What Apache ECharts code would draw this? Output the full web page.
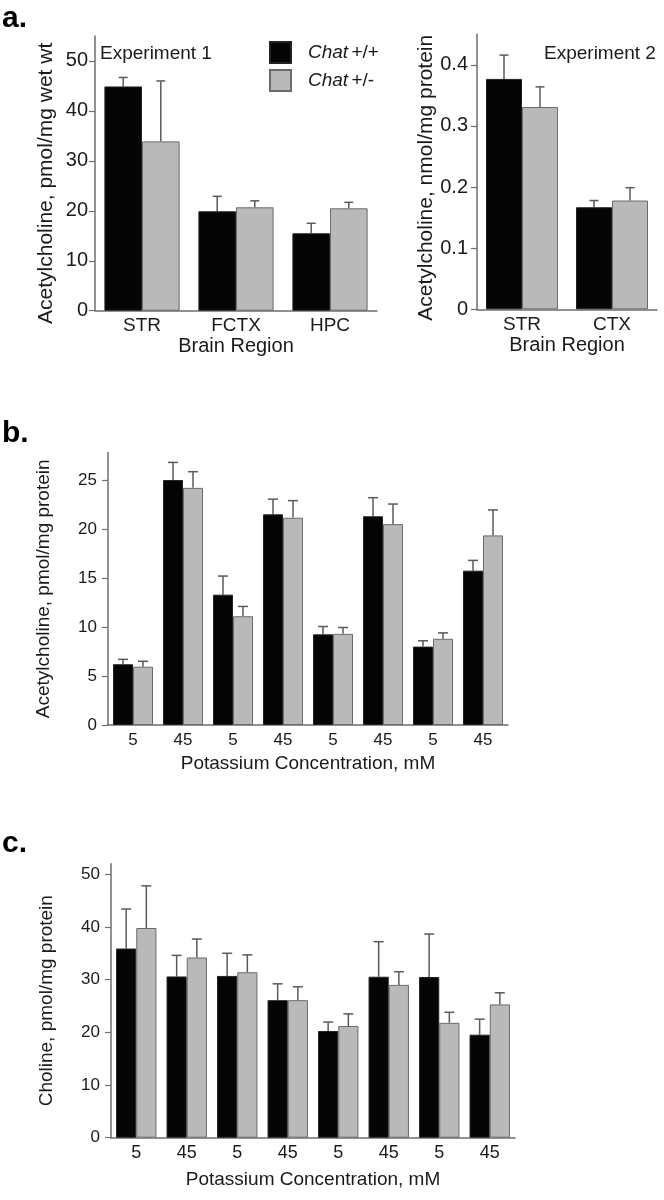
<!DOCTYPE html>
<html><head><meta charset="utf-8">
<script src="https://cdn.jsdelivr.net/npm/echarts@6/dist/echarts.min.js"></script>
<style>html,body{margin:0;padding:0;background:#fff}#c{width:664px;height:1200px}</style>
</head><body><div id="c"></div>
<script>
// ---------- data ----------
const seriesNames = ['Chat +/+', 'Chat +/-'];

const catsA1 = ['STR', 'FCTX', 'HPC'];
const a1Wt = [44.9, 19.9, 15.5];
const a1WtErr = [1.8, 3.0, 2.0];
const a1Het = [33.9, 20.7, 20.5];
const a1HetErr = [12.1, 1.3, 1.2];
const a1Ticks = [0, 10, 20, 30, 40, 50];

const catsA2 = ['STR', 'CTX'];
const a2Wt = [0.377, 0.167];
const a2WtErr = [0.039, 0.011];
const a2Het = [0.331, 0.178];
const a2HetErr = [0.033, 0.021];
const a2Ticks = [0, 0.1, 0.2, 0.3, 0.4];

const catsB = ['5', '45', '5', '45', '5', '45', '5', '45'];
const bWt = [6.2, 25.0, 13.3, 21.5, 9.25, 21.3, 8.0, 15.75];
const bWtErr = [0.5, 1.8, 1.9, 1.55, 0.8, 1.9, 0.6, 1.05];
const bHet = [5.95, 24.2, 11.1, 21.15, 9.3, 20.5, 8.8, 19.35];
const bHetErr = [0.55, 1.65, 1.0, 1.75, 0.65, 2.05, 0.6, 2.6];
const bTicks = [0, 5, 10, 15, 20, 25];

const catsC = ['5', '45', '5', '45', '5', '45', '5', '45'];
const cWt = [35.9, 30.6, 30.7, 26.1, 20.25, 30.55, 30.5, 19.55];
const cWtErr = [7.5, 4.0, 4.3, 3.1, 1.7, 6.65, 8.15, 2.95];
const cHet = [39.8, 34.2, 31.4, 26.1, 21.2, 29.0, 21.8, 25.3];
const cHetErr = [8.0, 3.5, 3.3, 2.55, 2.3, 2.5, 2.0, 2.2];
const cTicks = [0, 10, 20, 30, 40, 50];

// ---------- styling ----------
const FONT = 'Liberation Sans, Arial, Helvetica, sans-serif';
const AXIS_COLOR = '#6e6e6e';
const TEXT_COLOR = '#1a1a1a';
const GAP = 0.2;
const BLACK = '#050505';
const GREY = '#b9b9b9';

function errData(means, errs, side) {
  return means.map((m, i) => [i, m, errs[i], side]);
}
function errRender(cap) {
  return function (params, api) {
    const i = api.value(0), m = api.value(1), e = api.value(2), s = api.value(3);
    const band = api.size([1, 0])[0];
    const bw = band * (1 - GAP) / 2;
    const c = api.coord([i, m]);
    const t = api.coord([i, m + e]);
    const x = c[0] + (s === 0 ? -bw / 2 : bw / 2);
    const st = { stroke: '#5a5a5a', lineWidth: 1.5 };
    return {
      type: 'group', children: [
        { type: 'line', shape: { x1: x, y1: c[1], x2: x, y2: t[1] }, style: st },
        { type: 'line', shape: { x1: x - cap, y1: t[1], x2: x + cap, y2: t[1] }, style: st }
      ]
    };
  };
}

function yAxis(idx, max, ticks, cfg) {
  return {
    type: 'value', gridIndex: idx, min: 0, max: max,
    name: cfg.name, nameLocation: 'middle', nameGap: cfg.nameGap,
    nameTextStyle: { fontFamily: FONT, fontSize: cfg.nameSize, color: TEXT_COLOR, padding: cfg.namePad || 0 },
    axisLine: { show: true, lineStyle: { color: AXIS_COLOR, width: 1.5 } },
    axisTick: { show: true, length: 6, customValues: ticks, lineStyle: { color: AXIS_COLOR, width: 1.2 } },
    axisLabel: {
      customValues: ticks, margin: cfg.margin, fontFamily: FONT, fontSize: cfg.labelSize, color: TEXT_COLOR,
      formatter: cfg.fmt || (v => String(v))
    },
    splitLine: { show: false }
  };
}
function xAxis(idx, cats, cfg) {
  return {
    type: 'category', gridIndex: idx, data: cats,
    name: cfg.name, nameLocation: 'middle', nameGap: cfg.nameGap,
    nameTextStyle: { fontFamily: FONT, fontSize: cfg.nameSize, color: TEXT_COLOR },
    axisLine: { show: true, lineStyle: { color: AXIS_COLOR, width: 1.5 } },
    axisTick: { show: false },
    axisLabel: { margin: cfg.margin, fontFamily: FONT, fontSize: cfg.labelSize, color: TEXT_COLOR, interval: 0 },
    splitLine: { show: false }
  };
}
function bars(idx, name, data, color, border) {
  return {
    type: 'bar', name: name, xAxisIndex: idx, yAxisIndex: idx, data: data,
    barGap: '0%', barCategoryGap: (GAP * 100) + '%',
    itemStyle: { color: color, borderColor: border, borderWidth: 1 },
    z: 2, silent: true, animation: false
  };
}
function errs(idx, data, cap) {
  return {
    type: 'custom', xAxisIndex: idx, yAxisIndex: idx, data: data,
    renderItem: errRender(cap), z: 1, silent: true, animation: false
  };
}

const option = {
  animation: false,
  backgroundColor: '#ffffff',
  title: [
    { text: 'a.', left: 2, top: 4, padding: 0, textStyle: { fontFamily: FONT, fontSize: 30, fontWeight: 'bold', color: '#000' } },
    { text: 'b.', left: 2, top: 419, padding: 0, textStyle: { fontFamily: FONT, fontSize: 30, fontWeight: 'bold', color: '#000' } },
    { text: 'c.', left: 2, top: 829, padding: 0, textStyle: { fontFamily: FONT, fontSize: 30, fontWeight: 'bold', color: '#000' } },
    { text: 'Experiment 1', left: 100, top: 44, padding: 0, textStyle: { fontFamily: FONT, fontSize: 19, fontWeight: 'normal', color: TEXT_COLOR } },
    { text: 'Experiment 2', left: 544, top: 44, padding: 0, textStyle: { fontFamily: FONT, fontSize: 19, fontWeight: 'normal', color: TEXT_COLOR } }
  ],
  legend: {
    data: seriesNames, orient: 'vertical', left: 269, top: 41, padding: 0,
    itemWidth: 21, itemHeight: 21, itemGap: 5, icon: 'rect', selectedMode: false,
    formatter: n => '{i|Chat} {n|' + n.replace('Chat ', '') + '}',
    textStyle: {
      padding: [0, 0, 0, 12],
      rich: {
        i: { fontFamily: FONT, fontSize: 19, fontStyle: 'italic', color: TEXT_COLOR },
        n: { fontFamily: FONT, fontSize: 19, color: TEXT_COLOR }
      }
    }
  },
  grid: [
    { left: 95, right: 287, top: 36, bottom: 889.3 },
    { left: 477, right: 7, top: 34.3, bottom: 890.7 },
    { left: 108, right: 156, top: 452.6, bottom: 475 },
    { left: 111, right: 149, top: 863.7, bottom: 62.3 }
  ],
  xAxis: [
    xAxis(0, catsA1, { name: 'Brain Region', nameGap: 26, nameSize: 20, labelSize: 19, margin: 6 }),
    xAxis(1, catsA2, { name: 'Brain Region', nameGap: 26, nameSize: 20, labelSize: 19, margin: 6 }),
    xAxis(2, catsB, { name: 'Potassium Concentration, mM', nameGap: 29, nameSize: 19, labelSize: 17, margin: 7 }),
    xAxis(3, catsC, { name: 'Potassium Concentration, mM', nameGap: 33, nameSize: 19, labelSize: 18, margin: 6 })
  ],
  yAxis: [
    yAxis(0, 55, a1Ticks, { name: 'Acetylcholine, pmol/mg wet wt', nameGap: 38, nameSize: 21, labelSize: 20, margin: 7, namePad: [0, 20, 0, 0] }),
    yAxis(1, 0.45, a2Ticks, { name: 'Acetylcholine, nmol/mg protein', nameGap: 40, nameSize: 21, labelSize: 20, margin: 9, namePad: [0, 12, 0, 0], fmt: v => v === 0 ? '0' : v.toFixed(1) }),
    yAxis(2, 27.8, bTicks, { name: 'Acetylcholine, pmol/mg protein', nameGap: 55, nameSize: 19, labelSize: 17, margin: 11 }),
    yAxis(3, 52, cTicks, { name: 'Choline, pmol/mg protein', nameGap: 55, nameSize: 19, labelSize: 17, margin: 11 })
  ],
  series: [
    errs(0, errData(a1Wt, a1WtErr, 0), 4.5),
    errs(0, errData(a1Het, a1HetErr, 1), 4.5),
    bars(0, seriesNames[0], a1Wt, BLACK, '#222'),
    bars(0, seriesNames[1], a1Het, GREY, '#6b6b6b'),

    errs(1, errData(a2Wt, a2WtErr, 0), 4.5),
    errs(1, errData(a2Het, a2HetErr, 1), 4.5),
    bars(1, seriesNames[0], a2Wt, BLACK, '#222'),
    bars(1, seriesNames[1], a2Het, GREY, '#6b6b6b'),

    errs(2, errData(bWt, bWtErr, 0), 5),
    errs(2, errData(bHet, bHetErr, 1), 5),
    bars(2, seriesNames[0], bWt, BLACK, '#222'),
    bars(2, seriesNames[1], bHet, GREY, '#6b6b6b'),

    errs(3, errData(cWt, cWtErr, 0), 5),
    errs(3, errData(cHet, cHetErr, 1), 5),
    bars(3, seriesNames[0], cWt, BLACK, '#222'),
    bars(3, seriesNames[1], cHet, GREY, '#6b6b6b')
  ]
};

const chart = echarts.init(document.getElementById('c'), null, { renderer: 'canvas' });
chart.setOption(option);
</script>
</body></html>
